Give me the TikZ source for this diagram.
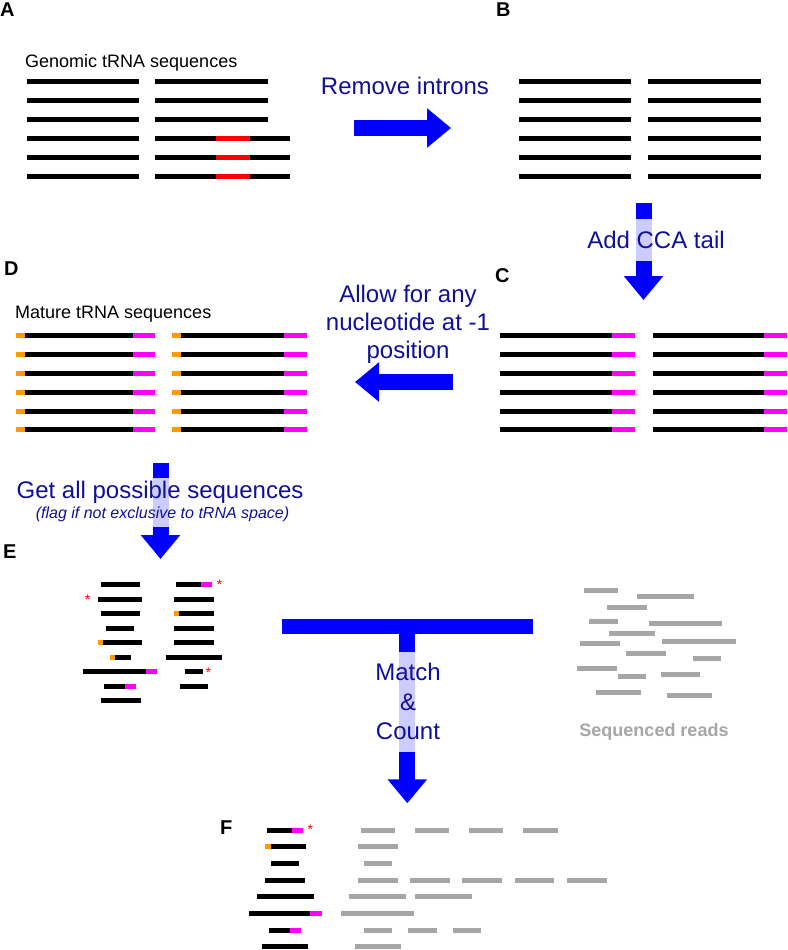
\documentclass[tikz,border=0pt]{standalone}
\usepackage{fontspec}
\setmainfont{Liberation Sans}
\usetikzlibrary{arrows.meta,positioning}
\definecolor{flowblue}{RGB}{0,0,255}
\definecolor{textnavy}{RGB}{16,16,150}
\definecolor{ccapink}{RGB}{255,0,255}
\definecolor{ntorange}{RGB}{255,153,0}
\definecolor{readgrey}{RGB}{166,166,166}

\begin{document}
\begin{tikzpicture}[x=1pt,y=-1pt,
				bar/.style={line width=5pt,black},
				cca/.style={line width=5pt,ccapink},
				nt/.style={line width=5pt,ntorange},
				intron/.style={line width=5pt,red},
				read/.style={line width=5pt,readgrey},
				panel/.style={font=\fontsize{20}{20}\selectfont\bfseries,inner sep=0pt,anchor=base west},
				caption/.style={font=\fontsize{18}{18}\selectfont,inner sep=0pt,anchor=base west},
				steplabel/.style={font=\fontsize{24}{28}\selectfont,text=textnavy,align=center,inner sep=0pt},
				veil/.style={fill=white,fill opacity=0.8,text opacity=1},
				bigarrow/.style={draw=flowblue,line width=16pt,-{Triangle[length=24pt,width=38pt]}},
				multi/.style={text=red,font=\fontsize{14}{14}\selectfont,inner sep=0pt,anchor=base}]
				\useasboundingbox (0,0) rectangle (787,950);

				% panel labels
				\node[panel] (A) at (0,16.5)   {A};
				\node[panel] (B) at (496,17)   {B};
				\node[panel] (C) at (495,282)  {C};
				\node[panel] (D) at (4,275.5)  {D};
				\node[panel] (E) at (3,558.5)  {E};
				\node[panel] (F) at (220,834.5){F};

				% A: genomic
				\node[caption] (genomic) at (25,67) {Genomic tRNA sequences};
				\foreach \y in {81,100,119}
					{\draw[bar] (27,\y) -- (139,\y); \draw[bar] (155,\y) -- (268,\y);}
				\foreach \y in {138,157,176}
					{\draw[bar] (27,\y) -- (139,\y); \draw[bar] (155,\y) -- (290,\y);
					 \draw[intron] (216,\y) -- (250,\y);}

				% B: introns removed
				\foreach \y in {81,100,119,138,157,176}
					{\draw[bar] (519,\y) -- (631,\y); \draw[bar] (648,\y) -- (761,\y);}

				% C: CCA tail
				\foreach \y in {335,354,373,392,411,429.5}
					{\draw[bar] (500,\y) -- (612,\y); \draw[cca] (612,\y) -- (635,\y);
					 \draw[bar] (653,\y) -- (764,\y); \draw[cca] (764,\y) -- (787,\y);}

				% D: mature
				\node[caption] (mature) at (15,318) {Mature tRNA sequences};
				\foreach \y in {335,354,373,392,411,429.5}
					{\draw[nt] (16,\y) -- (25,\y); \draw[bar] (25,\y) -- (133,\y); \draw[cca] (133,\y) -- (155,\y);
					 \draw[nt] (172,\y) -- (181,\y); \draw[bar] (181,\y) -- (284,\y); \draw[cca] (284,\y) -- (307,\y);}

				% steps
				\coordinate (rm0) at (354,128);
				\coordinate (rm1) at (451,128);
				\draw[bigarrow] (rm0) -- (rm1);
				\node[steplabel] (remove) at (405,86.3) {Remove introns};

				\coordinate (cc0) at (643.5,203);
				\coordinate (cc1) at (643.5,300);
				\draw[bigarrow] (cc0) -- (cc1);
				\node[steplabel,veil,minimum height=42pt] (addcca) at (656,240) {Add CCA tail};

				\coordinate (al0) at (453,382);
				\coordinate (al1) at (355,382);
				\draw[bigarrow] (al0) -- (al1);
				\node[steplabel] (allow) at (408,323.8) {Allow for any\\nucleotide at -1\\position};

				\coordinate (ga0) at (160.5,463);
				\coordinate (ga1) at (160.5,559);
				\draw[bigarrow] (ga0) -- (ga1);
				\node[veil,inner sep=0pt,minimum width=20pt,minimum height=49pt] (getveil) at (160.5,502.5) {};
				\node[steplabel,anchor=base] (getall) at (160,498) {Get all possible sequences};
				\node[steplabel,anchor=base,font=\fontsize{16}{18}\selectfont\itshape] (flagnote) at (162.5,518)
					{(flag if not exclusive to tRNA space)};

				\coordinate (tl) at (281.7,626);
				\coordinate (tr) at (533.3,626);
				\coordinate (tm) at (407.3,626);
				\coordinate (tb) at (407.3,803.3);
				\draw[flowblue,line width=15pt] (tl) -- (tr);
				\draw[bigarrow] (tm) -- (tb);
				\node[steplabel,veil,font=\fontsize{24}{29.7}\selectfont,minimum height=100pt] (match) at (408,701.7)
					{Match\\\&\\Count};

				% E: all possible sequences
				\draw[bar] (100.7,584.3) -- (140,584.3);
				\draw[bar] (97.7,599) -- (142.3,599);
				\draw[bar] (100.7,613.3) -- (140,613.3);
				\draw[bar] (106,628.3) -- (134,628.3);
				\draw[nt] (98.3,642.3) -- (103.3,642.3); \draw[bar] (103.3,642.3) -- (142.3,642.3);
				\draw[nt] (110,657.3) -- (115,657.3); \draw[bar] (115,657.3) -- (130.7,657.3);
				\draw[bar] (83.3,671.7) -- (146,671.7); \draw[cca] (146,671.7) -- (156.7,671.7);
				\draw[bar] (104.3,686) -- (125,686); \draw[cca] (125,686) -- (136,686);
				\draw[bar] (100.7,700.5) -- (140.7,700.5);

				\draw[bar] (176,584.3) -- (201,584.3); \draw[cca] (201,584.3) -- (212,584.3);
				\draw[bar] (174.3,599) -- (213.7,599);
				\draw[nt] (174,613.3) -- (179,613.3); \draw[bar] (179,613.3) -- (214.3,613.3);
				\draw[bar] (174.3,628.3) -- (213.7,628.3);
				\draw[bar] (174.3,642.3) -- (213.7,642.3);
				\draw[bar] (166,657.3) -- (222.3,657.3);
				\draw[bar] (185,671.7) -- (203,671.7);
				\draw[bar] (180,686) -- (208.3,686);

				\node[multi] (star1) at (87.7,604)  {*};
				\node[multi] (star2) at (219.7,589) {*};
				\node[multi] (star3) at (208.3,677) {*};

				% sequenced reads
				\draw[read] (584,590) -- (618.3,590)     (637.3,596.7) -- (694.3,596.7)
				            (607,607) -- (646.7,607)     (589.3,621.7) -- (617.7,621.7)
				            (648.7,623) -- (722,623)     (609.3,633.3) -- (655,633.3)
				            (580.3,643.7) -- (620,643.7) (662.3,641.7) -- (735.7,641.7)
				            (626.3,653.3) -- (665.7,653.3) (692.7,658.7) -- (721,658.7)
				            (577,668) -- (616.7,668)     (618.3,676.7) -- (646,676.7)
				            (660.7,674) -- (699.7,674)   (595.7,692.3) -- (640.7,692.3)
				            (667.3,695) -- (712.3,695);
				\node[caption,text=readgrey,font=\fontsize{18}{18}\selectfont\bfseries,anchor=base] (reads) at (654,736)
					{Sequenced reads};

				% F: counts
				\draw[bar] (267.3,830) -- (292,830); \draw[cca] (292,830) -- (303,830);
				\draw[nt] (265.3,846.7) -- (270.7,846.7); \draw[bar] (270.7,846.7) -- (305.7,846.7);
				\draw[bar] (271,863.3) -- (299.3,863.3);
				\draw[bar] (265.3,880) -- (305.3,880);
				\draw[bar] (257,896.7) -- (313.7,896.7);
				\draw[bar] (248.7,913.3) -- (310.3,913.3); \draw[cca] (310.3,913.3) -- (321.7,913.3);
				\draw[bar] (269.3,930) -- (290,930); \draw[cca] (290,930) -- (301,930);
				\draw[bar] (262.3,946.7) -- (308,946.7);
				\node[multi] (star4) at (310.3,834.7) {*};

				\draw[read] (360.7,830) -- (394.7,830) (415.3,830) -- (449.3,830) (469,830) -- (503,830) (523.3,830) -- (557.7,830);
				\draw[read] (357.7,846.7) -- (397.7,846.7);
				\draw[read] (363.7,863.3) -- (392,863.3);
				\draw[read] (357.7,880) -- (397.7,880) (410.3,880) -- (449.7,880) (462.3,880) -- (502,880)
				            (514.7,880) -- (554,880) (566.7,880) -- (606.7,880);
				\draw[read] (349.3,896.7) -- (406,896.7) (415.3,896.7) -- (471.7,896.7);
				\draw[read] (341.3,913.3) -- (414.3,913.3);
				\draw[read] (363.7,930) -- (391.7,930) (408,930) -- (436.7,930) (452.7,930) -- (481,930);
				\draw[read] (355,946.7) -- (400.7,946.7);
			\end{tikzpicture}
\end{document}
